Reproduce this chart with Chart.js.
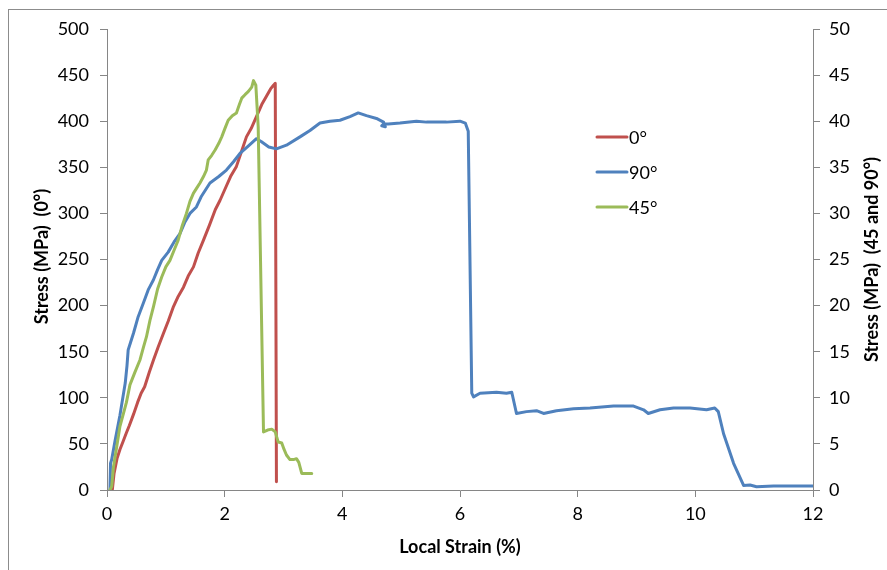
<!DOCTYPE html>
<html>
<head>
<meta charset="utf-8">
<script src="https://cdn.jsdelivr.net/npm/chart.js@4.4.1/dist/chart.umd.min.js"></script>
<style>
  html, body { margin: 0; padding: 0; background: #fff; overflow: hidden; }
  canvas { display: block; }
</style>
</head>
<body>
<canvas id="c" width="887" height="570"></canvas>
<script>
// 0° specimen: local strain (%) and stress (MPa), left axis
const strain0 = [0.09, 0.12, 0.17, 0.22, 0.27, 0.33, 0.38, 0.45, 0.52, 0.58, 0.64, 0.72, 0.79, 0.87, 0.96, 1.04, 1.13, 1.21, 1.30, 1.38, 1.47, 1.55, 1.64, 1.74, 1.84, 1.92, 2.01, 2.10, 2.20, 2.28, 2.37, 2.45, 2.54, 2.63, 2.71, 2.78, 2.83, 2.86, 2.88];
const stress0 = [0, 18, 34, 44, 52, 62, 70, 82, 95, 105, 112, 128, 141, 155, 170, 183, 199, 210, 220, 232, 242, 257, 271, 287, 304, 314, 327, 340, 351, 366, 383, 392, 405, 418, 427, 435, 439, 441, 9];

// 90° specimen: right axis
const strain90 = [0.05, 0.06, 0.08, 0.136, 0.22, 0.31, 0.34, 0.36, 0.40, 0.45, 0.53, 0.62, 0.70, 0.79, 0.86, 0.93, 1.04, 1.14, 1.24, 1.32, 1.41, 1.52, 1.60, 1.75, 1.90, 2.03, 2.15, 2.26, 2.40, 2.54, 2.62, 2.75, 2.88, 3.05, 3.28, 3.45, 3.62, 3.79, 3.96, 4.13, 4.27, 4.41, 4.58, 4.70, 4.73, 4.67, 4.70, 4.78, 4.98, 5.26, 5.43, 5.77, 6.00, 6.09, 6.14, 6.20, 6.23, 6.34, 6.62, 6.79, 6.88, 6.96, 7.13, 7.30, 7.42, 7.64, 7.93, 8.21, 8.61, 8.95, 9.12, 9.20, 9.40, 9.63, 9.91, 10.19, 10.33, 10.39, 10.48, 10.65, 10.82, 10.93, 11.04, 11.33, 12.0];
const stress90 = [0, 2.9, 3.3, 5.3, 8.1, 11.6, 13.5, 15.2, 16.0, 17.0, 18.8, 20.3, 21.7, 22.8, 23.9, 24.9, 25.8, 26.9, 27.8, 29.0, 30.0, 30.7, 31.8, 33.3, 34.0, 34.7, 35.6, 36.5, 37.3, 38.1, 37.8, 37.2, 37.0, 37.4, 38.3, 39.0, 39.8, 40.0, 40.1, 40.5, 40.9, 40.6, 40.3, 39.9, 39.4, 39.5, 39.7, 39.7, 39.8, 40.0, 39.9, 39.9, 40.0, 39.8, 38.9, 10.5, 10.1, 10.5, 10.6, 10.5, 10.6, 8.3, 8.5, 8.6, 8.3, 8.6, 8.8, 8.9, 9.1, 9.1, 8.7, 8.3, 8.7, 8.9, 8.9, 8.7, 8.9, 8.5, 6.1, 2.9, 0.5, 0.54, 0.36, 0.43, 0.43];

// 45° specimen: right axis
const strain45 = [0.05, 0.08, 0.11, 0.165, 0.22, 0.28, 0.33, 0.39, 0.47, 0.56, 0.62, 0.67, 0.73, 0.79, 0.86, 0.93, 1.00, 1.07, 1.14, 1.21, 1.28, 1.35, 1.41, 1.47, 1.53, 1.58, 1.64, 1.69, 1.72, 1.78, 1.84, 1.90, 1.95, 2.01, 2.06, 2.13, 2.20, 2.25, 2.29, 2.35, 2.40, 2.46, 2.49, 2.53, 2.57, 2.66, 2.73, 2.80, 2.86, 2.91, 2.97, 3.01, 3.05, 3.11, 3.17, 3.22, 3.26, 3.31, 3.40, 3.48];
const stress45 = [0, 0.4, 2.5, 4.7, 6.9, 8.3, 9.5, 11.4, 12.7, 14.1, 15.5, 16.6, 18.4, 19.9, 21.8, 23.1, 24.2, 24.9, 26.0, 27.1, 28.7, 30.0, 31.3, 32.2, 32.8, 33.3, 34.0, 34.7, 35.8, 36.3, 36.9, 37.6, 38.3, 39.3, 40.1, 40.6, 40.9, 41.8, 42.5, 42.9, 43.2, 43.7, 44.4, 43.9, 39.4, 6.3, 6.5, 6.6, 6.3, 5.2, 5.1, 4.4, 3.8, 3.3, 3.3, 3.4, 3.0, 1.8, 1.8, 1.8];

const seriesNames = ['0°', '90°', '45°'];
const seriesColors = ['#C0504D', '#4F81BD', '#9BBB59'];

const xTitle = 'Local Strain (%)';
const yLeftTitle = 'Stress (MPa)  (0°)';
const yRightTitle = 'Stress (MPa)  (45 and 90°)';

const FONT = 'Lato, "Open Sans", sans-serif';
const AXIS_GRAY = '#868686';

function pairs(xs, ys) {
  return xs.map((x, i) => ({ x: x, y: ys[i] }));
}

function lineSet(label, data, color, axis, order) {
  return {
    label: label,
    data: data,
    yAxisID: axis,
    borderColor: color,
    backgroundColor: color,
    borderWidth: 3,
    pointRadius: 0,
    showLine: true,
    tension: 0,
    borderJoinStyle: 'round',
    borderCapStyle: 'round',
    order: order
  };
}

// Outer frame of the chart object
const framePlugin = {
  id: 'frame',
  beforeDraw(chart) {
    const ctx = chart.ctx;
    ctx.save();
    ctx.fillStyle = '#fff';
    ctx.fillRect(0, 0, chart.width, chart.height);
    ctx.strokeStyle = '#8c8c8c';
    ctx.lineWidth = 1;
    ctx.strokeRect(8.5, 9.5, 1200, 1200);
    ctx.restore();
  }
};

function drawTitle(ctx, text, x, y, rotated) {
  ctx.save();
  ctx.translate(x, y);
  if (rotated) ctx.rotate(-Math.PI / 2);
  ctx.font = 'bold 18px ' + FONT;
  ctx.textAlign = 'center';
  ctx.textBaseline = 'middle';
  ctx.fillStyle = '#000';
  ctx.fillText(text, 0, 0);
  ctx.restore();
}

// Legend inside the plot, plus the three axis titles
const overlayPlugin = {
  id: 'overlay',
  afterDraw(chart) {
    const ctx = chart.ctx;
    const area = chart.chartArea;
    ctx.save();
    const lx = 597, ly0 = 137, step = 35;
    ctx.font = '18px ' + FONT;
    ctx.textBaseline = 'middle';
    ctx.textAlign = 'left';
    seriesNames.forEach((name, i) => {
      const y = ly0 + i * step;
      ctx.strokeStyle = seriesColors[i];
      ctx.lineWidth = 3;
      ctx.lineCap = 'round';
      ctx.beginPath();
      ctx.moveTo(lx, y);
      ctx.lineTo(lx + 30, y);
      ctx.stroke();
      ctx.fillStyle = '#000';
      ctx.fillText(name, lx + 32, y + 1);
    });
    ctx.restore();

    const midY = (area.top + area.bottom) / 2;
    drawTitle(ctx, xTitle, (area.left + area.right) / 2, 547, false);
    drawTitle(ctx, yLeftTitle, 42, midY - 3, true);
    drawTitle(ctx, yRightTitle, 872, midY, true);
  }
};

const tickFont = { family: FONT, size: 18 };

new Chart(document.getElementById('c'), {
  type: 'scatter',
  data: {
    datasets: [
      lineSet(seriesNames[0], pairs(strain0, stress0), seriesColors[0], 'y', 3),
      lineSet(seriesNames[1], pairs(strain90, stress90), seriesColors[1], 'y1', 2),
      lineSet(seriesNames[2], pairs(strain45, stress45), seriesColors[2], 'y1', 1)
    ]
  },
  options: {
    responsive: false,
    devicePixelRatio: 1,
    animation: false,
    layout: { padding: { top: 29, left: 0, right: 0, bottom: 0 } },
    plugins: {
      legend: { display: false },
      tooltip: { enabled: false }
    },
    scales: {
      x: {
        type: 'linear',
        min: 0, max: 12,
        ticks: { stepSize: 2, color: '#000', font: tickFont, padding: 6 },
        grid: { drawOnChartArea: false, drawTicks: true, tickLength: 7, color: AXIS_GRAY },
        border: { color: AXIS_GRAY, width: 1 },
        afterFit(scale) { scale.height = 80; }
      },
      y: {
        type: 'linear',
        position: 'left',
        min: 0, max: 500,
        ticks: { stepSize: 50, color: '#000', font: tickFont, padding: 11 },
        grid: { drawOnChartArea: false, drawTicks: true, tickLength: 7, color: AXIS_GRAY },
        border: { color: AXIS_GRAY, width: 1 },
        afterFit(scale) { scale.width = 107; }
      },
      y1: {
        type: 'linear',
        position: 'right',
        min: 0, max: 50,
        ticks: { stepSize: 5, color: '#000', font: tickFont, padding: 9 },
        grid: { drawOnChartArea: false, drawTicks: true, tickLength: 7, color: AXIS_GRAY },
        border: { color: AXIS_GRAY, width: 1 },
        afterFit(scale) { scale.width = 74; }
      }
    }
  },
  plugins: [framePlugin, overlayPlugin]
});
</script>
</body>
</html>
